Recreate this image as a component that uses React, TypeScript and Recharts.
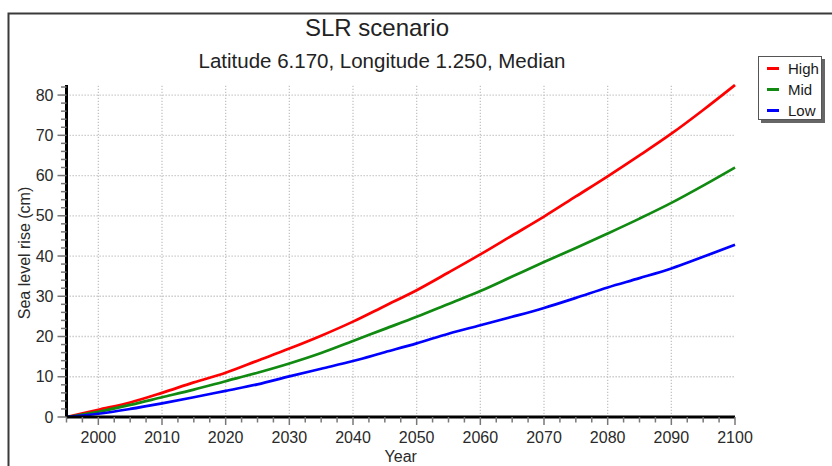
import React from 'react';
import { LineChart, Line, XAxis, YAxis, ReferenceLine, Legend, Label } from 'recharts';

const years = [1995, 2000, 2005, 2010, 2015, 2020, 2025, 2030, 2035, 2040, 2045, 2050, 2055, 2060, 2065, 2070, 2075, 2080, 2085, 2090, 2095, 2100];
const high = [0, 1.8, 3.6, 6.0, 8.6, 11.0, 14.0, 17.0, 20.2, 23.7, 27.6, 31.5, 35.9, 40.4, 45.1, 49.8, 54.8, 59.8, 65.0, 70.4, 76.3, 82.5];
const mid = [0, 1.3, 3.0, 4.9, 6.8, 8.9, 11.0, 13.3, 15.9, 18.9, 21.9, 24.9, 28.1, 31.3, 34.9, 38.5, 42.0, 45.6, 49.3, 53.2, 57.5, 62.0];
const low = [0, 0.8, 2.0, 3.4, 4.9, 6.5, 8.1, 10.1, 12.0, 13.9, 16.1, 18.3, 20.7, 22.8, 24.9, 27.1, 29.6, 32.2, 34.5, 36.9, 39.8, 42.8];

const xMajorTicks = [2000, 2010, 2020, 2030, 2040, 2050, 2060, 2070, 2080, 2090, 2100];
const xAllTicks = [1995, 1997.5, 2000, 2002.5, 2005, 2007.5, 2010, 2012.5, 2015, 2017.5, 2020, 2022.5, 2025, 2027.5, 2030, 2032.5, 2035, 2037.5, 2040, 2042.5, 2045, 2047.5, 2050, 2052.5, 2055, 2057.5, 2060, 2062.5, 2065, 2067.5, 2070, 2072.5, 2075, 2077.5, 2080, 2082.5, 2085, 2087.5, 2090, 2092.5, 2095, 2097.5, 2100];
const yMajorTicks = [10, 20, 30, 40, 50, 60, 70, 80];
const yAllTicks = [0, 2, 4, 6, 8, 10, 12, 14, 16, 18, 20, 22, 24, 26, 28, 30, 32, 34, 36, 38, 40, 42, 44, 46, 48, 50, 52, 54, 56, 58, 60, 62, 64, 66, 68, 70, 72, 74, 76, 78, 80, 82];

const seriesNames = ['High', 'Mid', 'Low'];
const seriesColors = ['#ff0000', '#108a10', '#0000ff'];

const data = years.map((y, i) => ({ year: y, High: high[i], Mid: mid[i], Low: low[i] }));

const FONT = '"Liberation Sans", Arial, sans-serif';

const XTick = (props: any) => {
  const { x, y, payload } = props;
  const v = payload.value;
  const major = v % 10 === 0;
  return (
    <g>
      <line x1={x} x2={x} y1={y} y2={y + (major ? 8 : 5.5)} stroke="#777" strokeWidth={1.5} />
      {major && (
        <text x={x} y={y + 26} textAnchor="middle" fontSize={16} fill="#2a2a2a" fontFamily={FONT}>
          {v}
        </text>
      )}
    </g>
  );
};

const YTick = (props: any) => {
  const { x, y, payload } = props;
  const v = payload.value;
  const major = v % 10 === 0;
  return (
    <g>
      <line x1={x - (major ? 9 : 5.5)} x2={x} y1={y} y2={y} stroke="#777" strokeWidth={1.5} />
      {major && (
        <text x={x - 13} y={y + 5.5} textAnchor="end" fontSize={16} fill="#2a2a2a" fontFamily={FONT}>
          {v}
        </text>
      )}
    </g>
  );
};

const LegendBox = (props: any) => {
  const items = [...(props.payload || [])].sort(
    (a: any, b: any) => seriesNames.indexOf(a.value) - seriesNames.indexOf(b.value)
  );
  return (
    <div
      style={{
        border: '1px solid #555',
        background: '#fff',
        boxShadow: '3px 3px 0 #666',
        width: 64,
        height: 64,
        boxSizing: 'border-box',
        paddingTop: 1,
        fontFamily: FONT,
      }}
    >
      {items.map((it: any) => (
        <div key={it.value} style={{ display: 'flex', alignItems: 'center', height: 21 }}>
          <div style={{ width: 12, height: 3, background: it.color, marginLeft: 8, marginRight: 9 }} />
          <span style={{ fontSize: 15, color: '#1a1a1a' }}>{it.value}</span>
        </div>
      ))}
    </div>
  );
};

export default function App() {
  return (
    <div style={{ position: 'absolute', left: 0, top: 0, width: 832, height: 466, background: '#fff', fontFamily: FONT }}>
      <LineChart width={832} height={466} data={data} margin={{ top: 85, right: 97, left: 0, bottom: 0 }}>
        <XAxis
          dataKey="year"
          type="number"
          domain={[1995, 2100]}
          ticks={xAllTicks}
          interval={0}
          tick={<XTick />}
          tickLine={false}
          tickSize={0}
          tickMargin={0}
          height={49}
          axisLine={{ stroke: '#000', strokeWidth: 3 }}
        >
          <Label
            content={(p: any) => {
              const vb = p.viewBox || {};
              return (
                <text x={vb.x + vb.width / 2} y={vb.y + 45} textAnchor="middle" fontSize={16} fill="#2a2a2a" fontFamily={FONT}>
                  Year
                </text>
              );
            }}
          />
        </XAxis>
        <YAxis
          type="number"
          domain={[0, 82.5]}
          ticks={yAllTicks}
          interval={0}
          tick={<YTick />}
          tickLine={false}
          tickSize={0}
          tickMargin={0}
          width={66.5}
          axisLine={{ stroke: '#000', strokeWidth: 3 }}
        >
          <Label
            content={(p: any) => {
              const vb = p.viewBox || {};
              const cx = vb.x + 24;
              const cy = vb.y + vb.height / 2 + 2;
              return (
                <text
                  x={cx}
                  y={cy}
                  transform={`rotate(-90, ${cx}, ${cy})`}
                  textAnchor="middle"
                  dominantBaseline="central"
                  fontSize={16}
                  fill="#2a2a2a"
                  fontFamily={FONT}
                >
                  Sea level rise (cm)
                </text>
              );
            }}
          />
        </YAxis>
        {xMajorTicks.slice(0, -1).map((t) => (
          <ReferenceLine key={'vx' + t} x={t} stroke="#c4c4c4" strokeWidth={1.3} strokeDasharray="1.3 1.7" />
        ))}
        {yMajorTicks.map((t) => (
          <ReferenceLine key={'hy' + t} y={t} stroke="#c4c4c4" strokeWidth={1.3} strokeDasharray="1.3 1.7" />
        ))}
        <Legend
          layout="vertical"
          align="center"
          verticalAlign="middle"
          content={<LegendBox />}
          wrapperStyle={{ position: 'absolute', left: 758, top: 56, width: 64, height: 64 }}
        />
        {seriesNames.map((n, i) => (
          <Line
            key={n}
            type="monotone"
            dataKey={n}
            name={n}
            stroke={seriesColors[i]}
            strokeWidth={2.7}
            dot={false}
            isAnimationActive={false}
          />
        ))}
      </LineChart>
      <svg width={832} height={466} style={{ position: 'absolute', left: 0, top: 0, pointerEvents: 'none' }}>
        <path d="M8.5,466 V13.5 H832" fill="none" stroke="#3a3a3a" strokeWidth={2} />
        <text x={377} y={36} textAnchor="middle" fontSize={24} fill="#222" fontFamily={FONT}>
          SLR scenario
        </text>
        <text x={382} y={68} textAnchor="middle" fontSize={20.5} fill="#222" fontFamily={FONT}>
          Latitude 6.170, Longitude 1.250, Median
        </text>
      </svg>
    </div>
  );
}
